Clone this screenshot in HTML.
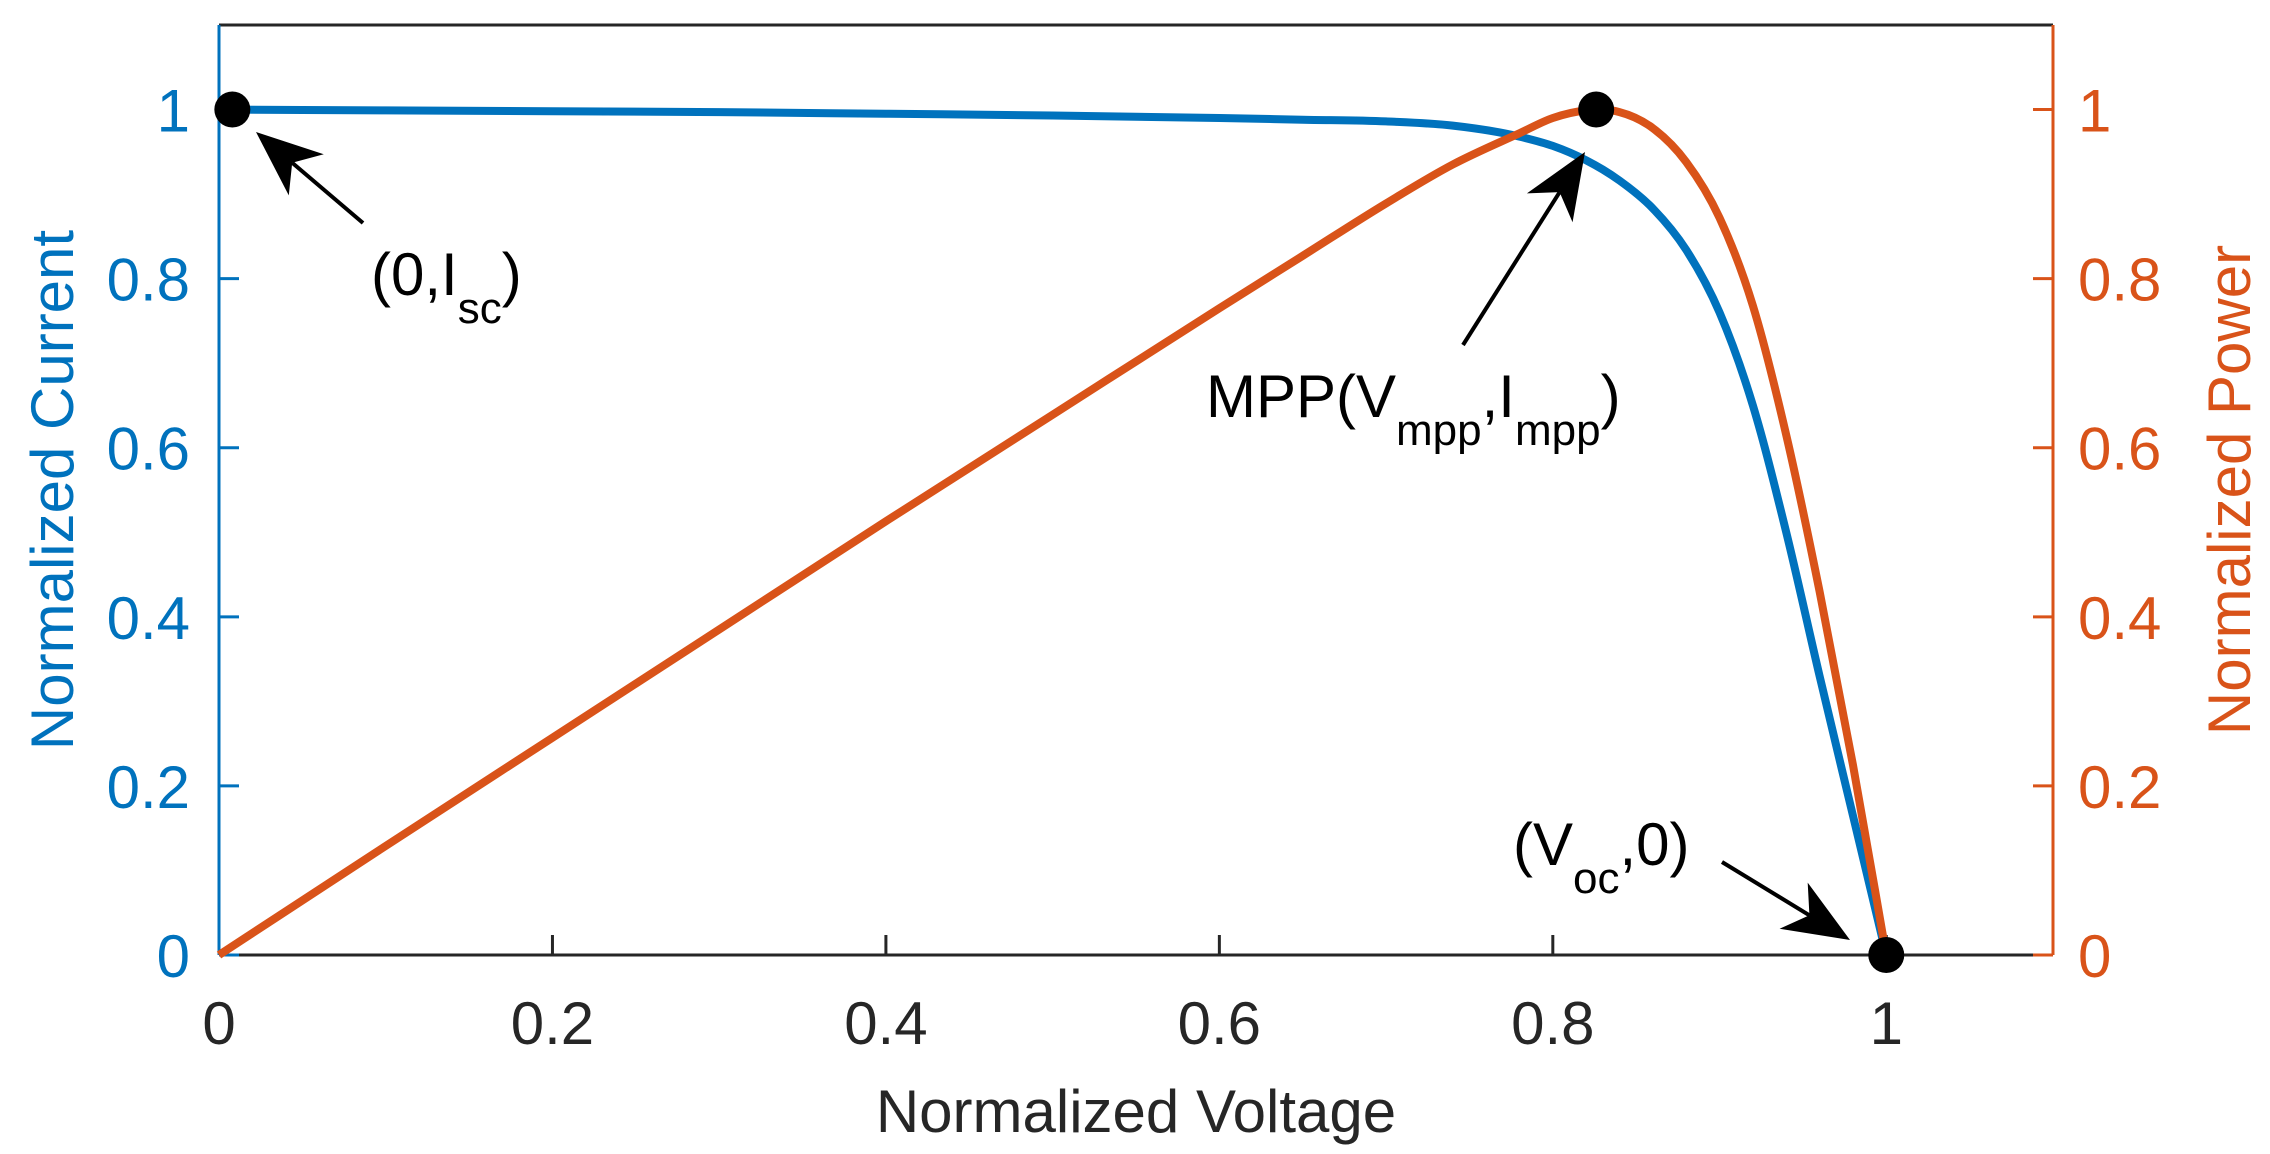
<!DOCTYPE html>
<html><head><meta charset="utf-8"><style>
html,body{margin:0;padding:0;background:#fff;}
svg{display:block;font-family:"Liberation Sans",sans-serif;}
</style></head><body>
<svg id="chart" width="2270" height="1154" viewBox="0 0 2270 1154" xmlns="http://www.w3.org/2000/svg">
<g id="plot"></g>
</svg>
<script>
const voltage = [0,0.1,0.2,0.3,0.4,0.5,0.6,0.65,0.7,0.74,0.78,0.80,0.82,0.83,0.84,0.86,0.88,0.9,0.92,0.94,0.96,0.98,1.0];
const current = [1,0.999,0.998,0.997,0.995,0.993,0.99,0.988,0.986,0.981,0.968,0.957,0.94,0.929,0.916,0.883,0.834,0.76,0.65,0.5,0.33,0.165,0];
const power = [0,0.129,0.257,0.385,0.513,0.639,0.765,0.827,0.889,0.935,0.972,0.99,0.999,1.0,0.997,0.978,0.938,0.872,0.768,0.615,0.43,0.225,0];
const xTicks = [0,0.2,0.4,0.6,0.8,1];
const xTickLabels = ["0","0.2","0.4","0.6","0.8","1"];
const yTicks = [0,0.2,0.4,0.6,0.8,1];
const yTickLabels = ["0","0.2","0.4","0.6","0.8","1"];
const markerX = [0.008,0.826,1.0];
const markerY = [1,1,0];

const X0=219,X1=2053,Y0=955,Y1=25;
const xs=v=>X0+(v/1.1)*(X1-X0);
const ys=v=>Y0-(v/1.1)*(Y0-Y1);
const NS="http://www.w3.org/2000/svg";
const g=document.getElementById('plot');
function mk(tag,attrs,parent){const e=document.createElementNS(NS,tag);for(const k in attrs)e.setAttribute(k,attrs[k]);(parent||g).appendChild(e);return e;}
// cubic spline through points (non-uniform Catmull-Rom style tangents via finite differences)
function smooth(xv,yv){
  const n=xv.length,px=xv.map(xs),py=yv.map(ys);
  const d=[],m=new Array(n);
  for(let i=0;i<n-1;i++)d.push((py[i+1]-py[i])/(px[i+1]-px[i]));
  m[0]=d[0];m[n-1]=d[n-2];
  for(let i=1;i<n-1;i++){
    const h0=px[i]-px[i-1],h1=px[i+1]-px[i];
    m[i]=(d[i-1]*h1+d[i]*h0)/(h0+h1);
  }
  let s=`M${px[0]},${py[0]}`;
  for(let i=0;i<n-1;i++){
    const h=(px[i+1]-px[i])/3;
    s+=` C${px[i]+h},${py[i]+m[i]*h} ${px[i+1]-h},${py[i+1]-m[i+1]*h} ${px[i+1]},${py[i+1]}`;
  }
  return s;
}
const BLUE="#0072BD",ORANGE="#D95319",DARK="#262626";
let e;
e=mk('line',{x1:X0,y1:Y1,x2:X1,y2:Y1,stroke:DARK,'stroke-width':3});


e=mk('line',{x1:X0,y1:Y0,x2:X1,y2:Y0,stroke:DARK,'stroke-width':3});


xTicks.forEach((t,i)=>{
  const l=mk('line',{x1:xs(t),y1:Y0,x2:xs(t),y2:Y0-20,stroke:DARK,'stroke-width':3});
  
  
  const tx=mk('text',{x:xs(t),y:1044,'font-size':60,fill:DARK,'text-anchor':'middle'});
  tx.textContent=xTickLabels[i];
  
  
});
e=mk('line',{x1:X0,y1:Y1,x2:X0,y2:Y0,stroke:BLUE,'stroke-width':3});


e=mk('line',{x1:X1,y1:Y1,x2:X1,y2:Y0,stroke:ORANGE,'stroke-width':3});


yTicks.forEach((t,i)=>{
  const l=mk('line',{x1:X0,y1:ys(t),x2:X0+20,y2:ys(t),stroke:BLUE,'stroke-width':3});
  
  
  const tx=mk('text',{x:190,y:ys(t)+22,'font-size':60,fill:BLUE,'text-anchor':'end'});
  tx.textContent=yTickLabels[i];
  
  
  const r=mk('line',{x1:X1,y1:ys(t),x2:X1-20,y2:ys(t),stroke:ORANGE,'stroke-width':3});
  
  
  const tr=mk('text',{x:2078,y:ys(t)+22,'font-size':60,fill:ORANGE,'text-anchor':'start'});
  tr.textContent=yTickLabels[i];
  
  
});
e=mk('text',{x:1136,y:1132,'font-size':60,fill:DARK,'text-anchor':'middle'});
e.textContent='Normalized Voltage';


e=mk('text',{x:0,y:0,'font-size':60,fill:BLUE,'text-anchor':'middle',transform:'translate(73,490) rotate(-90)'});
e.textContent='Normalized Current';


e=mk('text',{x:0,y:0,'font-size':60,fill:ORANGE,'text-anchor':'middle',transform:'translate(2250,490) rotate(-90)'});
e.textContent='Normalized Power';


e=mk('path',{d:smooth(voltage,current),fill:'none',stroke:BLUE,'stroke-width':8,'stroke-linejoin':'round'});


e=mk('path',{d:smooth(voltage,power),fill:'none',stroke:ORANGE,'stroke-width':8,'stroke-linejoin':'round'});


markerX.forEach((m,i)=>{
  const c=mk('circle',{cx:xs(m),cy:ys(markerY[i]),r:18,fill:'#000'});
  
  
});
function arrow(x1,y1,x2,y2,name){
  const a=mk('g',{});
  
  
  const dx=x2-x1,dy=y2-y1,L=Math.hypot(dx,dy),ux=dx/L,uy=dy/L,nx=-uy,ny=ux;
  const hl=66,hw=27,back=hl*0.72;
  const bx=x2-ux*hl,by=y2-uy*hl,ix=x2-ux*back,iy=y2-uy*back;
  mk('line',{x1:x1,y1:y1,x2:ix,y2:iy,stroke:'#000','stroke-width':4},a);
  mk('polygon',{points:`${x2},${y2} ${bx+nx*hw},${by+ny*hw} ${ix},${iy} ${bx-nx*hw},${by-ny*hw}`,fill:'#000'},a);
}
arrow(363,223,256,132,'isc-arrow');
arrow(1463,345,1585,152,'mpp-arrow');
arrow(1722,862,1850,940,'voc-arrow');
function ann(x,y,parts,name){
  const t=mk('text',{x:x,y:y,'font-size':60,fill:'#000'});
  
  
  parts.forEach(p=>{
    const s=mk('tspan',p.sub?{'font-size':44,dy:28}:{'font-size':60,dy:p.up?-28:0},t);
    s.textContent=p.t;
  });
}
ann(371,295,[{t:'(0,I'},{t:'sc',sub:1},{t:')',up:1}],'isc-label');
ann(1206,417,[{t:'MPP(V'},{t:'mpp',sub:1},{t:',I',up:1},{t:'mpp',sub:1},{t:')',up:1}],'mpp-label');
ann(1513,865,[{t:'(V'},{t:'oc',sub:1},{t:',0)',up:1}],'voc-label');
</script>
</body></html>
